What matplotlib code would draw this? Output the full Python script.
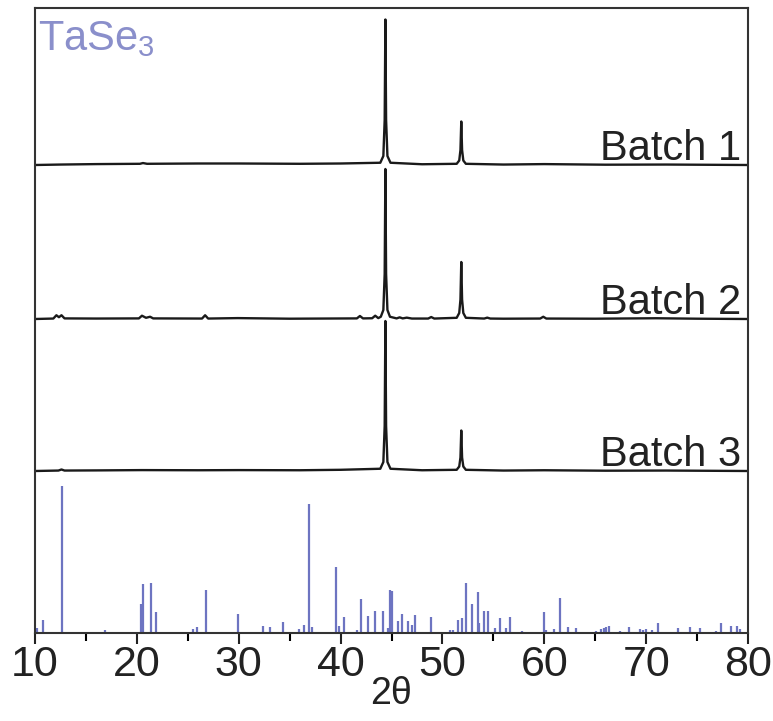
import numpy as np
import matplotlib
matplotlib.use("Agg")
import matplotlib.pyplot as plt
from matplotlib.ticker import MultipleLocator

plt.rcParams['font.family'] = ['Liberation Sans', 'DejaVu Sans']
plt.rcParams['mathtext.default'] = 'regular'

# measured patterns, intensity normalised so the Ni(111) peak ~ 100
batch1 = [(10, 0), (12.5, 0.3), (16, 0.6), (20.3, 0.8), (20.6, 1.3), (21.0, 0.8),
          (26, 1.0), (30, 1.0), (36, 0.8), (40, 1.0), (43.9, 1.5), (44.2, 6),
          (44.33, 30), (44.4, 97), (44.47, 30), (44.6, 6), (44.9, 1.5), (48, 0.5),
          (51.4, 0.8), (51.65, 3), (51.77, 10), (51.85, 29), (51.93, 10), (52.05, 3),
          (52.3, 0.8), (56, 0.3), (60, 0.6), (66, 0.2), (72, 0.3), (80, 0)]

batch2 = [(10, 0), (11.8, 0.3), (12.1, 2.5), (12.35, 1.2), (12.6, 2.5), (12.9, 0.4),
          (16, 0.3), (20.2, 0.4), (20.5, 2.2), (20.9, 0.8), (21.3, 1.5), (21.6, 0.4),
          (26.4, 0.3), (26.7, 2.5), (27.0, 0.3), (29.9, 0.6), (35, 0.2), (41.6, 0.4),
          (41.9, 2.0), (42.2, 0.4), (43.1, 0.5), (43.4, 2.2), (43.7, 0.6), (43.95, 1.5),
          (44.2, 6), (44.33, 30), (44.4, 100), (44.47, 30), (44.6, 6), (44.85, 1.5),
          (45.5, 0.4), (45.8, 1.1), (46.1, 0.4), (46.5, 0.9), (47, 0.3), (48.6, 0.3),
          (48.9, 1.3), (49.2, 0.3), (51.4, 0.8), (51.65, 4), (51.77, 13), (51.85, 38),
          (51.93, 13), (52.05, 4), (52.3, 0.8), (54.1, 0.3), (54.4, 0.9), (54.7, 0.3),
          (56, 0.2), (59.6, 0.3), (59.9, 1.5), (60.2, 0.3), (65, 0.2), (71, 0.5),
          (75, 0.2), (80, 0)]

batch3 = [(10, 0), (12.3, 0.3), (12.6, 1.0), (12.9, 0.3), (16, 0.4), (20.5, 0.6),
          (26, 0.5), (30, 0.6), (36, 0.5), (40, 0.8), (43.9, 1.5), (44.2, 6),
          (44.33, 30), (44.4, 100), (44.47, 30), (44.6, 6), (44.9, 1.5), (48, 0.5),
          (51.4, 0.8), (51.65, 3), (51.77, 9), (51.85, 27), (51.93, 9), (52.05, 3),
          (52.3, 0.8), (56, 0.3), (60, 0.5), (66, 0.2), (72, 0.3), (80, 0)]

batch_names = ['Batch 1', 'Batch 2', 'Batch 3']

# TaSe3 reference pattern (2theta, relative intensity)
ref_pos = [10.17, 10.82, 12.62, 16.87, 20.40, 20.57, 21.39, 21.84, 25.54, 25.93,
           26.75, 29.95, 32.34, 33.06, 34.30, 35.94, 36.40, 36.89, 37.15, 39.54,
           39.80, 40.32, 41.63, 41.96, 42.65, 43.37, 44.18, 44.61, 44.84, 45.07,
           45.60, 45.99, 46.58, 47.06, 47.29, 48.86, 50.73, 51.05, 51.54, 51.93,
           52.27, 52.92, 53.45, 53.60, 54.13, 54.49, 55.14, 55.66, 56.22, 56.61,
           57.82, 59.95, 60.15, 60.93, 61.59, 62.34, 63.16, 64.30, 65.12, 65.61,
           65.87, 66.10, 66.33, 67.41, 68.32, 69.37, 69.70, 70.03, 70.58, 71.20,
           73.13, 74.35, 75.26, 76.83, 77.39, 78.37, 78.92, 79.19]
ref_int = [3.4, 8.6, 100, 2.0, 20, 33, 34, 14.5, 2.7, 4.0,
           29, 13, 4.8, 4.0, 7.5, 2.5, 5.2, 88, 3.8, 45,
           4.8, 10.6, 2.3, 23, 11.5, 15, 15, 3.4, 29, 28.5,
           8, 13, 8.4, 5.7, 12.4, 11, 2.3, 2.0, 8.6, 10,
           34, 20, 28, 7, 15, 15, 3.4, 10.4, 3.6, 11,
           1.6, 14.5, 2.0, 2.7, 24, 3.8, 3.4, 1.0, 1.6, 2.7,
           3.2, 3.8, 4.8, 1.6, 4.3, 3.0, 2.3, 2.5, 1.8, 7.0,
           3.4, 4.3, 3.2, 1.6, 6.6, 4.8, 4.8, 2.7]

# layout (vertical units ~ pixels above the bottom spine)
offsets = [468, 314, 162]
trace_scale = 1.5
ref_scale = 1.47
ref_color = '#6d74c1'
label_color = '#8a8fcb'

fig = plt.figure(figsize=(7.73, 7.21), dpi=100)
ax = fig.add_axes([35 / 773, 88 / 721, 713 / 773, 625 / 721])

for data, off, name in zip([batch1, batch2, batch3], offsets, batch_names):
    x, y = np.array(data).T
    ax.plot(x, off + y * trace_scale, color='#1a1a1a', lw=1.7, solid_joinstyle='round')
    ax.text(79.3, off + 5, name, ha='right', va='baseline', fontsize=30, color='#222222')

ax.vlines(ref_pos, 0, np.array(ref_int) * ref_scale, color=ref_color, lw=1.6)
ax.text(10.25, 583, 'TaSe$_3$', ha='left', va='baseline', fontsize=30, color=label_color)

ax.set_xlim(10, 80)
ax.set_ylim(0, 625)
ax.set_yticks([])
ax.xaxis.set_major_locator(MultipleLocator(10))
ax.xaxis.set_minor_locator(MultipleLocator(5))
ax.tick_params(axis='x', which='major', direction='out', length=8, width=1.5,
               pad=1, labelsize=31, colors='#222222')
ax.tick_params(axis='x', which='minor', direction='out', length=5.5, width=1.5)
for sp in ax.spines.values():
    sp.set_linewidth(1.5)
    sp.set_color('#333333')

ax.set_xlabel('2θ', fontsize=27, labelpad=-7, color='#222222')

fig.savefig('out.png', dpi=100)
